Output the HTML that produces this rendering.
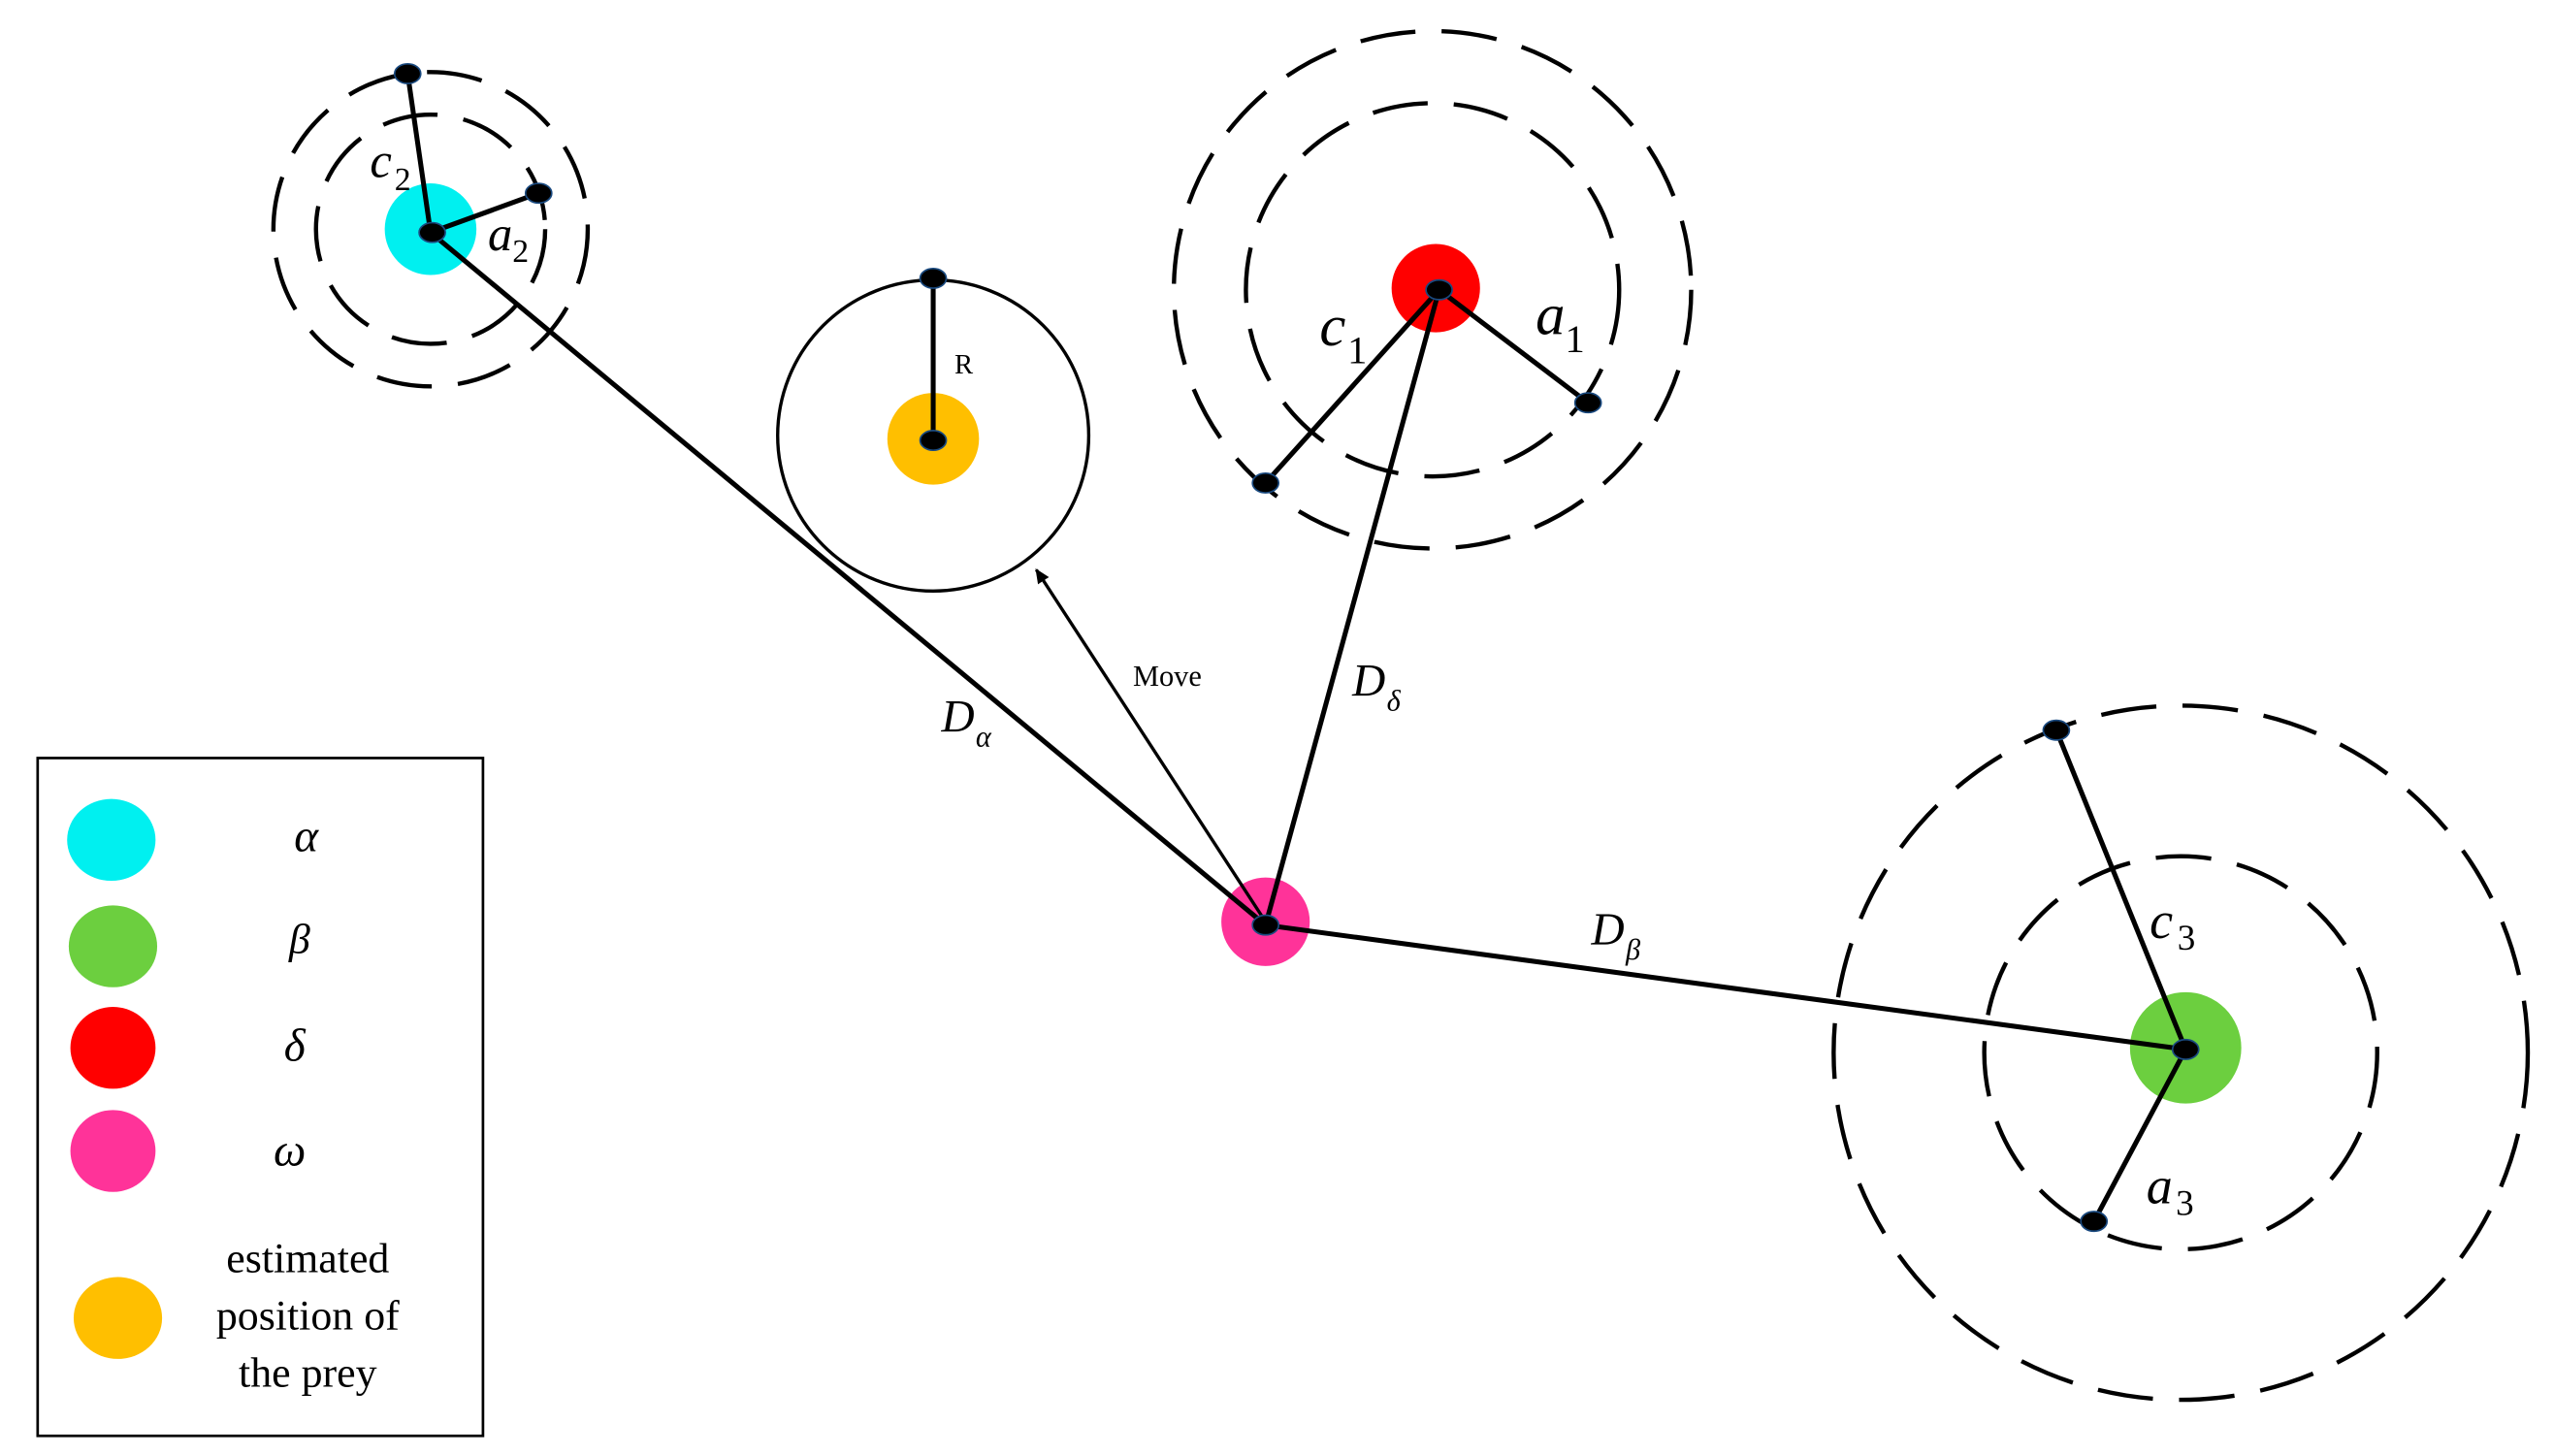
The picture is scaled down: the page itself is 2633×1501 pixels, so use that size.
<!DOCTYPE html>
<html><head><meta charset="utf-8">
<style>
html,body{margin:0;padding:0;background:#fff;}
svg{display:block;}
text{font-family:"Liberation Serif",serif;fill:#000;}
.it{font-style:italic;}
</style></head>
<body>
<svg width="2633" height="1501" viewBox="0 0 1560 889.3" preserveAspectRatio="none" xmlns="http://www.w3.org/2000/svg">
<defs>
<marker id="ah" markerWidth="10" markerHeight="10" refX="8" refY="5" orient="auto" markerUnits="userSpaceOnUse">
<path d="M0,1 L9,5 L0,9 Z" fill="#000"/>
</marker>
</defs>
<rect width="1560" height="890" fill="#fff"/>

<!-- dashed circles -->
<g fill="none" stroke="#000" stroke-width="2.6" stroke-dasharray="34 16">
<circle cx="263" cy="140" r="70"/>
<circle cx="263" cy="140" r="96"/>
<circle cx="875" cy="177" r="114"/>
<circle cx="875" cy="177" r="158"/>
<circle cx="1332" cy="643" r="120"/>
<circle cx="1332" cy="643" r="212"/>
</g>
<!-- solid prey circle -->
<circle cx="570" cy="266" r="95" fill="none" stroke="#000" stroke-width="2"/>

<!-- colored nodes -->
<circle cx="263" cy="140" r="28" fill="#00f0f0"/>
<circle cx="570" cy="268" r="28" fill="#ffbf00"/>
<circle cx="877" cy="176" r="27" fill="#ff0000"/>
<circle cx="773" cy="563" r="27" fill="#ff3399"/>
<circle cx="1335" cy="640" r="34" fill="#6ccf3f"/>

<!-- lines -->
<g stroke="#000" stroke-width="3" fill="none">
<line x1="773" y1="565" x2="263" y2="142"/>
<line x1="773" y1="565" x2="879" y2="177"/>
<line x1="773" y1="565" x2="1335" y2="641"/>
<line x1="263" y1="142" x2="249" y2="45"/>
<line x1="263" y1="142" x2="329" y2="118"/>
<line x1="570" y1="170" x2="570" y2="268"/>
<line x1="879" y1="177" x2="773" y2="295"/>
<line x1="879" y1="177" x2="970" y2="246"/>
<line x1="1335" y1="641" x2="1256" y2="446"/>
<line x1="1335" y1="641" x2="1279" y2="746"/>
</g>
<line x1="773" y1="563" x2="633" y2="348" stroke="#000" stroke-width="2" marker-end="url(#ah)"/>

<!-- black small nodes -->
<g fill="#000" stroke="#1a4a80" stroke-width="1">
<ellipse cx="249" cy="45" rx="8" ry="6"/>
<ellipse cx="329" cy="118" rx="8" ry="6"/>
<ellipse cx="264" cy="142" rx="8" ry="6"/>
<ellipse cx="570" cy="170" rx="8" ry="6"/>
<ellipse cx="570" cy="269" rx="8" ry="6"/>
<ellipse cx="879" cy="177" rx="8" ry="6"/>
<ellipse cx="773" cy="295" rx="8" ry="6"/>
<ellipse cx="970" cy="246" rx="8" ry="6"/>
<ellipse cx="773" cy="565" rx="8" ry="6"/>
<ellipse cx="1256" cy="446" rx="8" ry="6"/>
<ellipse cx="1279" cy="746" rx="8" ry="6"/>
<ellipse cx="1335" cy="641" rx="8" ry="6"/>
</g>

<!-- labels -->
<text x="226" y="108" font-size="30" class="it">c</text><text x="241" y="116" font-size="20">2</text>
<text x="298" y="153" font-size="30" class="it">a</text><text x="313" y="160" font-size="20">2</text>
<text x="583" y="228" font-size="17">R</text>
<text x="806" y="211" font-size="36" class="it">c</text><text x="823" y="222" font-size="24">1</text>
<text x="938" y="204" font-size="36" class="it">a</text><text x="956" y="215" font-size="24">1</text>
<text x="1313" y="573" font-size="32" class="it">c</text><text x="1330" y="580" font-size="22">3</text>
<text x="1311" y="735" font-size="32" class="it">a</text><text x="1329" y="742" font-size="22">3</text>
<text x="692" y="419" font-size="18">Move</text>
<text x="575" y="447" font-size="28" class="it">D</text><text x="596" y="456" font-size="18" class="it">α</text>
<text x="826" y="425" font-size="28" class="it">D</text><text x="847" y="434" font-size="18" class="it">δ</text>
<text x="972" y="577" font-size="28" class="it">D</text><text x="993" y="586" font-size="18" class="it">β</text>

<!-- legend -->
<rect x="23" y="463" width="272" height="414" fill="none" stroke="#000" stroke-width="1.6"/>
<ellipse cx="68" cy="513" rx="27" ry="25" fill="#00f0f0"/>
<ellipse cx="69" cy="578" rx="27" ry="25" fill="#6ccf3f"/>
<ellipse cx="69" cy="640" rx="26" ry="25" fill="#ff0000"/>
<ellipse cx="69" cy="703" rx="26" ry="25" fill="#ff3399"/>
<ellipse cx="72" cy="805" rx="27" ry="25" fill="#ffbf00"/>
<text x="187" y="520" font-size="28" class="it" text-anchor="middle">α</text>
<text x="183" y="582" font-size="26" class="it" text-anchor="middle">β</text>
<text x="180" y="648" font-size="28" class="it" text-anchor="middle">δ</text>
<text x="177" y="712" font-size="28" class="it" text-anchor="middle">ω</text>
<text x="188" y="777" font-size="26" text-anchor="middle">estimated</text>
<text x="188" y="812" font-size="26" text-anchor="middle">position of</text>
<text x="188" y="847" font-size="26" text-anchor="middle">the prey</text>
</svg>
</body></html>
